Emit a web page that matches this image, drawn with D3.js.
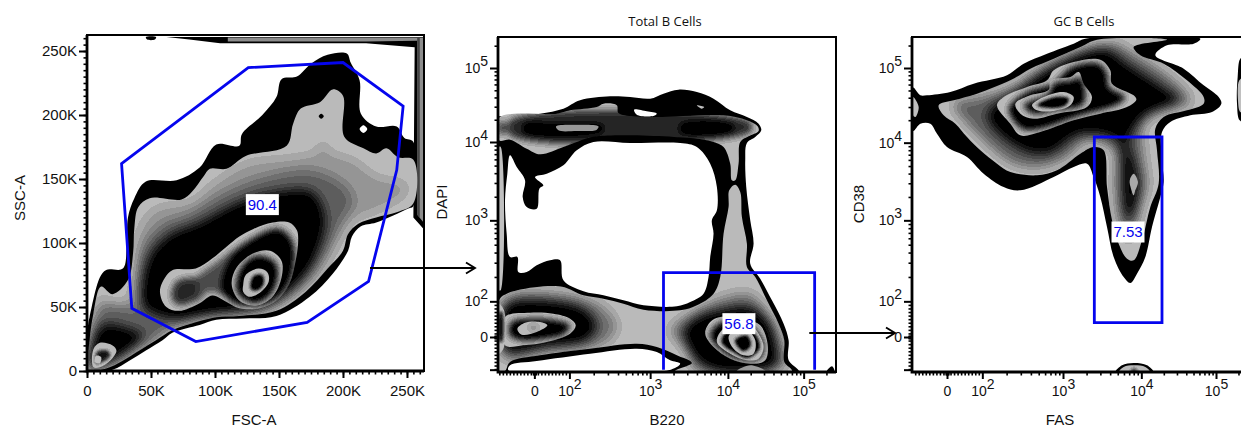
<!DOCTYPE html>
<html><head><meta charset="utf-8">
<script src="https://cdn.jsdelivr.net/npm/d3@7/dist/d3.min.js"></script>
<style>html,body{margin:0;padding:0;background:#fff}svg{display:block}</style></head>
<body><div id="c"></div>
<script>
// ---------- Panel 1: FSC-A / SSC-A, values in thousands ----------
const p1Ticks=[0,50,100,150,200,250];
const p1Gate=[[27,162],[126,237],[200,241],[247,207],[242,157],[220,70],[172,38],[85,23],[35,49]];
const p1Label=[137,130,"90.4"];
const p1Outer=[[0,0],[1,37],[2,42],[10,73],[15,79],[28,80],[31,97],[32,120],[37,135],[46,148],[70,149],[88,159],[101,177],[119,176],[121,185],[137,200],[148,214],[152,228],[164,230],[175,240],[188,247],[203,248],[206,241],[213,227],[214,201],[226,191],[242,191],[248,182],[255,179],[255,129],[251,127],[226,116],[214,113],[207,105],[204,94],[192,76],[174,58],[148,43],[122,41],[101,40],[88,36],[67,30],[59,24],[46,16],[33,8],[20,1]];
const p1Strip=[[62,261],[263,261],[263,111],[255,120],[256,253],[218,256],[104,256],[80,259]];
const p1StripGray=[[110,260.5],[263,260.5],[263,116],[258,122],[258,258],[218,257.5],[110,257.5]];
const p1StripDark=[[258,261],[260,261],[260,120],[258,122]];
const p1Speck=[[46,261],[54,261],[53,259],[47,259]];
const p1Hole=[[213,189],[216,192],[219,189],[216,186]];
const p1Dot=[[181,199],[183,201],[185,199],[183,197]];
const p1Gray=[[2,24],[5,45],[11,66],[20,60],[32,71],[36,92],[37,112],[40,128],[49,135],[74,134],[82,140],[91,152],[96,158],[109,158],[124,168],[156,176],[161,193],[167,205],[182,210],[192,220],[200,215],[201,183],[216,174],[226,170],[234,174],[243,167],[255,165],[255,131],[242,124],[226,120],[212,115],[204,107],[200,94],[188,80],[171,62],[148,47],[119,43],[101,42],[85,38],[67,32],[54,24],[41,16],[28,8],[15,2],[1,1]];
const p1Light=[[36,66],[40,107],[52,126],[83,133],[98,146],[124,162],[161,167],[179,171],[184,180],[190,171],[208,165],[226,152],[249,146],[249,139],[226,125],[208,118],[197,102],[177,68],[140,47],[85,40],[62,30],[41,17],[18,6],[6,4],[3,40],[12,58],[20,53],[32,55]];
const p1Mid=[[40,50],[44,97],[59,115],[80,123],[101,136],[130,149],[174,157],[200,146],[208,133],[197,112],[187,92],[166,68],[137,50],[85,42],[62,34],[52,37]];
const p1Core=[[44,50],[48,88],[64,106],[88,116],[119,132],[148,140],[176,140],[186,120],[180,92],[168,71],[140,50],[98,44],[72,40],[55,44]];
const p1CornerMid=[[2,2],[5,34],[12,50],[31,50],[44,45],[62,33],[41,17],[15,3]];
const p1CornerCore=[[2,3],[3,21],[12,36],[23,36],[36,32],[44,29],[33,17],[15,6]];
const p1CornerRing=[[5,3],[5,17],[10,22],[20,20],[23,16],[18,8],[10,3]];
const p1CornerRingCore=[[7,6],[8,15],[16,16],[18,12],[12,7]];
const p1CornerDot=[[6,7],[7,12],[11,11],[10,6]];
const p1Ring1=[[57,62],[61,73],[67,79],[85,80],[98,88],[109,97],[119,105],[130,111],[145,116],[158,116],[164,110],[165,102],[163,86],[158,68],[148,55],[135,49],[119,49],[109,54],[98,59],[88,53],[72,47],[62,50]];
const p1Ring1Mid=[[72,62],[86,74],[100,84],[125,102],[150,112],[162,100],[158,65],[135,50],[110,58],[95,62],[85,54]];
const p1Ring1Left=[[66,58],[70,70],[85,72],[88,62],[80,53],[70,52]];
const p1Ring1Core=[[105,64],[112,88],[130,103],[150,110],[160,100],[158,72],[146,56],[130,51],[115,53]];
const p1Ring2=[[113,68],[117,81],[130,92],[143,94],[152,86],[152,73],[145,58],[132,51],[119,55]];
const p1Ring2Core=[[117,62],[120,80],[132,90],[147,85],[149,72],[142,58],[130,53]];
const p1Ring3=[[122,67],[124,75],[134,80],[141,77],[142,70],[136,62],[127,58],[122,62]];
const p1Ring3Core=[[128,64],[130,74],[137,75],[138,68],[133,63]];

// ---------- Panel 2: B220 / DAPI, values in display channels ----------
const p2TickX=[109,214,456,689,916], p2TickY=[105,212,455,690,912];
const p2TickLabels=["0","10^2","10^3","10^4","10^5"];
const p2Gate=[[496,7],[496,298],[949,298],[949,7]];
const p2Label=[722,145,"56.8"];
const p2Outer=[[3,767],[46,765],[126,775],[196,790],[246,815],[336,827],[396,825],[456,820],[496,835],[541,847],[596,840],[646,820],[696,785],[746,765],[781,745],[789,725],[771,705],[746,687],[741,635],[744,555],[756,455],[766,385],[756,325],[786,280],[821,215],[856,145],[871,95],[871,35],[901,5],[901,0],[0,0],[0,767]];
const p2Hole=[[36,650],[56,615],[81,575],[74,525],[86,495],[116,490],[124,550],[136,560],[111,585],[146,595],[196,620],[236,665],[286,690],[396,687],[546,687],[596,675],[636,625],[656,555],[656,485],[641,455],[646,415],[636,345],[631,285],[616,235],[576,210],[536,197],[436,200],[376,215],[316,230],[256,242],[196,275],[186,335],[156,335],[116,320],[86,300],[61,300],[58,345],[36,345],[26,415],[21,515],[28,595]];
const p2HoleLow=[[36,20],[116,33],[276,55],[416,70],[476,60],[516,35],[546,25],[511,5],[31,5]];
const p2Island=[[408,787],[446,782],[476,775],[466,768],[416,772]];
const p2Band=[[3,763],[176,775],[216,785],[296,795],[316,805],[356,800],[361,777],[406,767],[476,765],[676,770],[746,755],[778,737],[781,723],[751,707],[726,690],[721,625],[711,575],[701,575],[696,625],[676,675],[646,690],[596,700],[296,707],[236,690],[196,675],[126,653],[86,670],[36,697],[3,695]];
const p2BandMid=[[36,755],[756,750],[756,720],[36,710]];
const p2BandCoreA=[[76,745],[166,747],[316,740],[316,720],[76,717]];
const p2BandCoreB=[[546,745],[696,747],[711,730],[686,715],[546,717]];
const p2BandEdge=[[3,750],[21,750],[21,715],[3,715]];
const p2BandInner=[[174,737],[236,742],[301,737],[296,727],[236,723],[181,725]];
const p2Speck=[[596,800],[618,795],[610,790]];
const p2Sliver=[[3,675],[8,675],[8,245],[3,245]];
const p2Body=[[26,235],[136,257],[196,255],[256,230],[316,220],[376,205],[436,187],[546,185],[596,200],[646,235],[666,285],[676,415],[691,495],[693,545],[711,562],[726,540],[731,465],[746,385],[746,315],[771,285],[806,215],[841,145],[858,95],[858,30],[881,3],[531,3],[581,27],[536,50],[476,75],[416,85],[276,70],[126,50],[36,30],[21,3],[3,3],[3,215]];
const p2LeftMid=[[21,220],[196,235],[316,195],[356,135],[316,85],[146,60],[21,40]];
const p2LeftCore=[[21,200],[146,215],[266,185],[296,135],[266,95],[146,75],[21,65]];
const p2RightMid=[[516,125],[576,175],[676,225],[756,235],[816,165],[851,85],[856,15],[596,3],[566,65]];
const p2RightCore=[[556,125],[596,165],[656,185],[756,195],[816,145],[836,75],[836,25],[776,3],[656,3],[586,45]];
const p2LeftRing=[[21,165],[96,178],[166,175],[216,160],[233,140],[216,115],[146,90],[76,80],[21,80]];
const p2LeftRingCore=[[40,150],[100,160],[170,155],[215,140],[200,115],[140,100],[70,95],[35,110]];
const p2LeftDot=[[58,130],[81,148],[126,150],[148,140],[116,120],[71,112]];
const p2LeftDotCore=[[90,135],[120,138],[110,126]];
const p2Ring1=[[621,115],[636,150],[666,165],[746,155],[786,140],[808,85],[801,35],[756,25],[696,40],[646,75]];
const p2Ring1Core=[[635,110],[670,150],[750,145],[795,90],[785,40],[700,45]];
const p2Ring2=[[656,90],[676,130],[756,140],[781,115],[796,75],[781,40],[746,35],[696,55]];
const p2Ring2Core=[[670,90],[690,125],[755,130],[785,75],[750,42],[705,60]];
const p2Ring3=[[691,100],[696,115],[746,125],[771,95],[766,55],[736,50],[706,70]];
const p2Ring3Core=[[710,95],[745,110],[758,80],[735,62]];
const p2Diamond=[[716,3],[756,20],[801,3]];
const p2Edge=[[3,205],[18,185],[18,75],[3,55]];
const p2EdgeCore=[[5,180],[12,180],[12,90],[5,90]];
const p2Corner=[[986,3],[1001,17],[1008,3]];

// ---------- Panel 3: FAS / CD38, values in display channels ----------
const p3TickX=[105,211,453,688,912], p3TickY=[105,212,455,688,912];
const p3TickLabels=["0","10^2","10^3","10^4","10^5"];
const p3Gate=[[547,148],[547,705],[750,705],[750,148]];
const p3Label=[648,420,"7.53"];
const p3Outer=[[3,853],[25,830],[45,830],[115,840],[185,865],[285,890],[335,925],[405,955],[485,985],[520,1000],[865,1000],[845,985],[765,980],[730,950],[815,910],[875,860],[920,825],[928,805],[900,780],[835,770],[775,750],[750,720],[750,635],[755,570],[745,525],[720,435],[700,345],[675,295],[655,267],[635,285],[605,345],[585,435],[565,525],[545,585],[525,625],[485,615],[425,585],[325,545],[275,555],[215,595],[165,645],[105,675],[75,715],[55,745],[25,745],[3,723]];
const p3Gray=[[80,800],[125,815],[195,835],[295,875],[355,910],[425,940],[505,975],[555,997],[765,997],[665,975],[685,950],[755,925],[825,875],[875,825],[875,805],[825,785],[755,765],[730,730],[735,665],[740,565],[715,495],[690,395],[665,335],[645,340],[620,385],[600,455],[585,555],[575,665],[545,675],[505,655],[435,605],[375,590],[295,600],[255,625],[205,665],[165,705],[130,745],[95,770]];
const p3LeftBit=[[3,825],[20,795],[10,765],[3,770]];
const p3Mid=[[125,805],[205,825],[305,855],[385,905],[485,955],[605,985],[665,955],[745,905],[815,845],[835,810],[745,780],[695,745],[695,645],[705,565],[685,495],[665,415],[650,395],[625,435],[610,555],[605,665],[525,695],[465,645],[385,615],[305,625],[225,685],[175,735]];
const p3Core=[[225,770],[320,850],[430,925],[575,970],[650,920],[750,855],[800,815],[700,770],[650,695],[668,625],[680,555],[665,475],[650,455],[635,495],[630,615],[615,695],[505,715],[405,655],[315,675]];
const p3Ring1=[[255,800],[275,825],[345,855],[405,875],[425,905],[485,930],[565,937],[595,905],[600,865],[665,830],[673,817],[645,795],[565,775],[485,755],[385,720],[325,710],[295,745]];
const p3Ring1Core=[[290,790],[345,840],[420,865],[480,915],[560,925],[585,895],[590,855],[640,825],[620,805],[505,770],[385,730],[330,730]];
const p3Ring2=[[310,805],[355,830],[410,847],[415,875],[475,885],[500,900],[515,865],[540,825],[525,795],[435,775],[365,760],[325,775]];
const p3Ring2Core=[[335,800],[410,835],[425,865],[480,875],[505,885],[520,825],[510,800],[430,785],[365,775]];
const p3Ring3=[[360,800],[395,825],[455,840],[485,825],[475,800],[425,783],[375,785]];
const p3Ring3Core=[[375,800],[430,825],[470,820],[460,800],[425,792]];
const p3Drop=[[653,575],[665,595],[678,570],[670,545],[665,530],[657,550]];
const p3Foot=[[610,-2],[630,20],[665,27],[705,20],[725,-2]];
const p3FootGray=[[620,-2],[635,15],[665,20],[700,15],[715,-2]];
const p3FootCore=[[655,-2],[665,12],[680,-2]];
const p3Right=[[1000,945],[985,940],[977,885],[975,805],[983,755],[1000,750]];
const p3RightGray=[[1000,885],[982,875],[978,815],[985,780],[1000,780]];

const p1Titles={x:"FSC-A",y:"SSC-A"}, p2Titles={x:"B220",y:"DAPI",top:"Total B Cells"}, p3Titles={x:"FAS",y:"CD38",top:"GC B Cells"};

// ---------- drawing ----------
const W=1241,H=432,BLUE="#0505ee",LG="#c0c0c0";
const svg=d3.select("#c").append("svg").attr("width",W).attr("height",H).attr("font-family","'Liberation Sans',Arial,sans-serif");
const defs=svg.append("defs");
function bandFilter(id,s){
  const f=defs.append("filter").attr("id",id).attr("filterUnits","userSpaceOnUse").attr("x",0).attr("y",0).attr("width",W).attr("height",H).attr("color-interpolation-filters","sRGB");
  f.append("feGaussianBlur").attr("stdDeviation",s);
  const t=d3.range(14).map(k=>(k/13*0.95).toFixed(3)).join(" ");
  const c=f.append("feComponentTransfer");
  ["feFuncR","feFuncG","feFuncB"].forEach(n=>c.append(n).attr("type","discrete").attr("tableValues",t));
}
bandFilter("b6",6);bandFilter("b3",3);bandFilter("b15",1.5);
let clipN=0;
function panel(sx,sy,L,R,T,B){
  const g=svg.append("g");
  const id="pc"+(clipN++);
  defs.append("clipPath").attr("id",id).append("rect").attr("x",L).attr("y",T).attr("width",R-L).attr("height",B-T);
  const plot=g.append("g").attr("clip-path",`url(#${id})`);
  const ln=d3.line().x(d=>sx(d[0])).y(d=>sy(d[1])).curve(d3.curveCatmullRomClosed.alpha(.5));
  const lnStraight=d3.line().x(d=>sx(d[0])).y(d=>sy(d[1])).curve(d3.curveLinearClosed);
  const api={
    g,plot,ln,
    fill(poly,col){plot.append("path").attr("d",ln(poly)).attr("fill",col);},
    fillStraight(poly,col){plot.append("path").attr("d",lnStraight(poly)).attr("fill",col);},
    holes(polys,col){plot.append("path").attr("d",polys.map(ln).join("")).attr("fill",col).attr("fill-rule","evenodd");},
    shade(region,layers,filter){
      const cid="pc"+(clipN++);
      defs.append("clipPath").attr("id",cid).append("path").attr("d",ln(region));
      const c=plot.append("g").attr("clip-path",`url(#${cid})`).append("g").attr("filter",`url(#${filter})`);
      c.append("rect").attr("x",L-30).attr("y",T-30).attr("width",R-L+60).attr("height",B-T+60).attr("fill",LG);
      layers.forEach(([p,col])=>c.append("path").attr("d",ln(p)).attr("fill",col));
    }
  };
  return api;
}
function finish(api,sx,sy,L,R,T,B,gate,closed,label,ticksX,ticksY,minX,minY,fmt,titles,tx,ty){
  const g=api.g;
  g.append("rect").attr("x",L).attr("y",T).attr("width",R-L).attr("height",B-T).attr("fill","none").attr("stroke","#000").attr("stroke-width",2);
  g.append("path").attr("d",`M${L},${T}V${B}H${R}`).attr("fill","none").attr("stroke","#000").attr("stroke-width",2.8);
  const minorX=d3.axisBottom(sx).tickValues(minX).tickSize(3.5).tickFormat("");
  const minorY=d3.axisLeft(sy).tickValues(minY).tickSize(3.5).tickFormat("");
  [[minorX,`translate(0,${B})`],[minorY,`translate(${L},0)`]].forEach(([a,t])=>{
    const m=g.append("g").attr("transform",t).call(a);m.select(".domain").remove();m.selectAll("line").attr("stroke-width",1.6);});
  const ax=d3.axisBottom(sx).tickValues(ticksX).tickSize(7).tickPadding(7).tickFormat((d,i)=>fmt[0][i]);
  const ay=d3.axisLeft(sy).tickValues(ticksY).tickSize(8).tickPadding(2).tickFormat((d,i)=>fmt[1][i]);
  const gx=g.append("g").attr("transform",`translate(0,${B})`).call(ax);
  const gy=g.append("g").attr("transform",`translate(${L},0)`).call(ay);
  [gx,gy].forEach(a=>{
    a.select(".domain").remove();
    a.selectAll("line").attr("stroke-width",2);
    a.selectAll("text").attr("font-family",null).attr("font-size",fmt[2]).attr("fill","#111").each(function(){
      const t=d3.select(this),s=t.text();
      if(s.includes("^")){
        const [b,e]=s.split("^");t.text(b);
        t.append("tspan").attr("dy","-0.5em").attr("font-size",fmt[2]).text(e);
      }
    });
  });
  g.append("path").attr("d",d3.line().x(d=>sx(d[0])).y(d=>sy(d[1])).curve(closed?d3.curveLinearClosed:d3.curveLinear)(gate)).attr("fill","none").attr("stroke",BLUE).attr("stroke-width",2.8).attr("stroke-linejoin","miter");
  const lx=sx(label[0]),ly=sy(label[1]);
  const lw=33;
  g.append("rect").attr("x",lx-lw/2).attr("y",ly-10.5).attr("width",lw).attr("height",21).attr("fill","#fff");
  g.append("text").attr("x",lx).attr("y",ly+5.3).attr("text-anchor","middle").attr("font-size",15).attr("fill",BLUE).text(label[2]);
  g.append("text").attr("x",tx[0]).attr("y",tx[1]).attr("text-anchor","middle").attr("font-size",15).attr("fill","#111").text(titles.x);
  g.append("text").attr("transform",`translate(${ty[0]},${ty[1]}) rotate(-90)`).attr("text-anchor","middle").attr("font-size",15).attr("fill","#111").text(titles.y);
  if(titles.top) g.append("text").attr("x",titles.cx).attr("y",26).attr("text-anchor","middle").attr("font-family","'Open Sans',sans-serif").attr("font-size",13).attr("fill","#111").text(titles.top);
}
function logMinors(t,maxTop){
  const out=[];const zero=t[0],dec=t.slice(1);
  const unit=(dec[0]-zero)/100;
  d3.range(-100,100,10).forEach(v=>{if(v!==0)out.push(zero+v*unit);});
  for(let i=0;i<dec.length-1;i++){const s=dec[i+1]-dec[i];d3.range(2,10).forEach(m=>out.push(dec[i]+Math.log10(m)*s));}
  const s=dec[dec.length-1]-dec[dec.length-2];
  out.push(dec[dec.length-1]+Math.log10(2)*s);
  [-4,-2,2,4].forEach(v=>out.push(zero+v));
  return out.filter(v=>v>=0&&v<=maxTop);
}

// Panel 1
{
  const L=87,R=424,T=35,B=371;
  const sx=d3.scaleLinear().domain([0,263.3]).range([L,R]);
  const sy=d3.scaleLinear().domain([0,262.5]).range([B,T]);
  const P=panel(sx,sy,L,R,T,B);
  P.fillStraight(p1Strip,"#000");P.fillStraight(p1StripGray,"#8c8c8c");P.fillStraight(p1StripDark,"#444");P.fill(p1Speck,"#000");
  P.holes([p1Outer,p1Hole],"#000");
  P.shade(p1Gray,[[p1Light,"#9a9a9a"],[p1Mid,"#666"],[p1Core,"#000"],[p1CornerMid,"#666"],[p1CornerCore,"#000"]],"b6");
  P.fill(p1Dot,"#000");
  P.shade(p1CornerRing,[[p1CornerRingCore,"#222"]],"b15");
  P.fill(p1CornerDot,LG);
  P.shade(p1Ring1,[[p1Ring1Mid,"#555"],[p1Ring1Left,"#333"],[p1Ring1Core,"#000"]],"b3");
  P.shade(p1Ring2,[[p1Ring2Core,"#000"]],"b3");
  P.shade(p1Ring3,[[p1Ring3Core,"#000"]],"b15");
  const minor=d3.range(0,263,5);
  finish(P,sx,sy,L,R,T,B,p1Gate,true,p1Label,p1Ticks,p1Ticks,minor,minor,
    [p1Ticks.map(v=>v?v+"K":"0"),p1Ticks.map(v=>v?v+"K":"0"),15],p1Titles,[254,425],[25,198]);
}
let s2x,s2y;
// Panel 2
{
  const L=498,R=836,T=37,B=372;
  const sx=d3.scaleLinear().domain([0,1013]).range([L,R]);
  const sy=d3.scaleLinear().domain([0,1005]).range([B,T]);
  s2x=sx;s2y=sy;
  const P=panel(sx,sy,L,R,T,B);
  P.holes([p2Outer,p2Hole,p2HoleLow,p2Island],"#000");
  P.fill(p2Corner,"#000");
  P.fill(p2Sliver,LG);
  P.shade(p2Band,[[p2BandMid,"#333"],[p2BandCoreA,"#000"],[p2BandCoreB,"#000"],[p2BandEdge,"#444"]],"b3");
  P.fill(p2BandInner,"#999");P.fill(p2Speck,LG);
  P.shade(p2Body,[[p2LeftMid,"#777"],[p2RightMid,"#777"],[p2LeftCore,"#000"],[p2RightCore,"#000"]],"b6");
  P.shade(p2LeftRing,[[p2LeftRingCore,"#000"]],"b3");
  P.shade(p2LeftDot,[[p2LeftDotCore,"#555"]],"b3");
  P.shade(p2Ring1,[[p2Ring1Core,"#000"]],"b3");
  P.shade(p2Ring2,[[p2Ring2Core,"#000"]],"b15");
  P.shade(p2Ring3,[[p2Ring3Core,"#000"]],"b15");
  P.fill(p2Diamond,"#999");
  P.shade(p2Edge,[[p2EdgeCore,"#111"]],"b15");
  p2Titles.cx=665;
  finish(P,sx,sy,L,R,T,B,p2Gate,false,p2Label,p2TickX,p2TickY.concat(7),logMinors(p2TickX,1013),logMinors(p2TickY,1005),
    [p2TickLabels,p2TickLabels.concat(""),14],p2Titles,[667,425],[447,202]);
}
// Panel 3
{
  const L=912,R=1250,T=37,B=372;
  const sx=d3.scaleLinear().domain([0,1014]).range([L,R]);
  const sy=d3.scaleLinear().domain([0,1005]).range([B,T]);
  const P=panel(sx,sy,L,R,T,B);
  P.fill(p3Outer,"#000");P.fill(p3LeftBit,LG);
  P.fill(p3Right,"#000");P.fill(p3RightGray,LG);
  P.fill(p3Foot,"#000");
  P.shade(p3FootGray,[[p3FootCore,"#444"]],"b15");
  P.shade(p3Gray,[[p3Mid,"#666"],[p3Core,"#000"]],"b6");
  P.fill(p3Drop,"#aaa");
  P.shade(p3Ring1,[[p3Ring1Core,"#000"]],"b3");
  P.shade(p3Ring2,[[p3Ring2Core,"#000"]],"b3");
  P.shade(p3Ring3,[[p3Ring3Core,"#000"]],"b15");
  p3Titles.cx=1084;
  finish(P,sx,sy,L,R,T,B,p3Gate,true,p3Label,p3TickX,p3TickY.concat(7),logMinors(p3TickX,1014),logMinors(p3TickY,1005),
    [p3TickLabels,p3TickLabels.concat(""),14],p3Titles,[1060,425],[864,204]);
  // arrows between panels, placed in the neighbouring panel's channel units
  const arrows=[[370,s2y(312),s2x(-69)],[s2x(933),s2y(117),sx(-51)]];
  const ag=svg.append("g").attr("fill","none").attr("stroke","#000").attr("stroke-width",1.9);
  arrows.forEach(([x0,y,x1])=>{
    ag.append("path").attr("d",`M${x0},${y}H${x1}`);
    ag.append("path").attr("d",`M${x1-9},${y-5.5}L${x1},${y}L${x1-9},${y+5.5}`);
  });
}
</script></body></html>
